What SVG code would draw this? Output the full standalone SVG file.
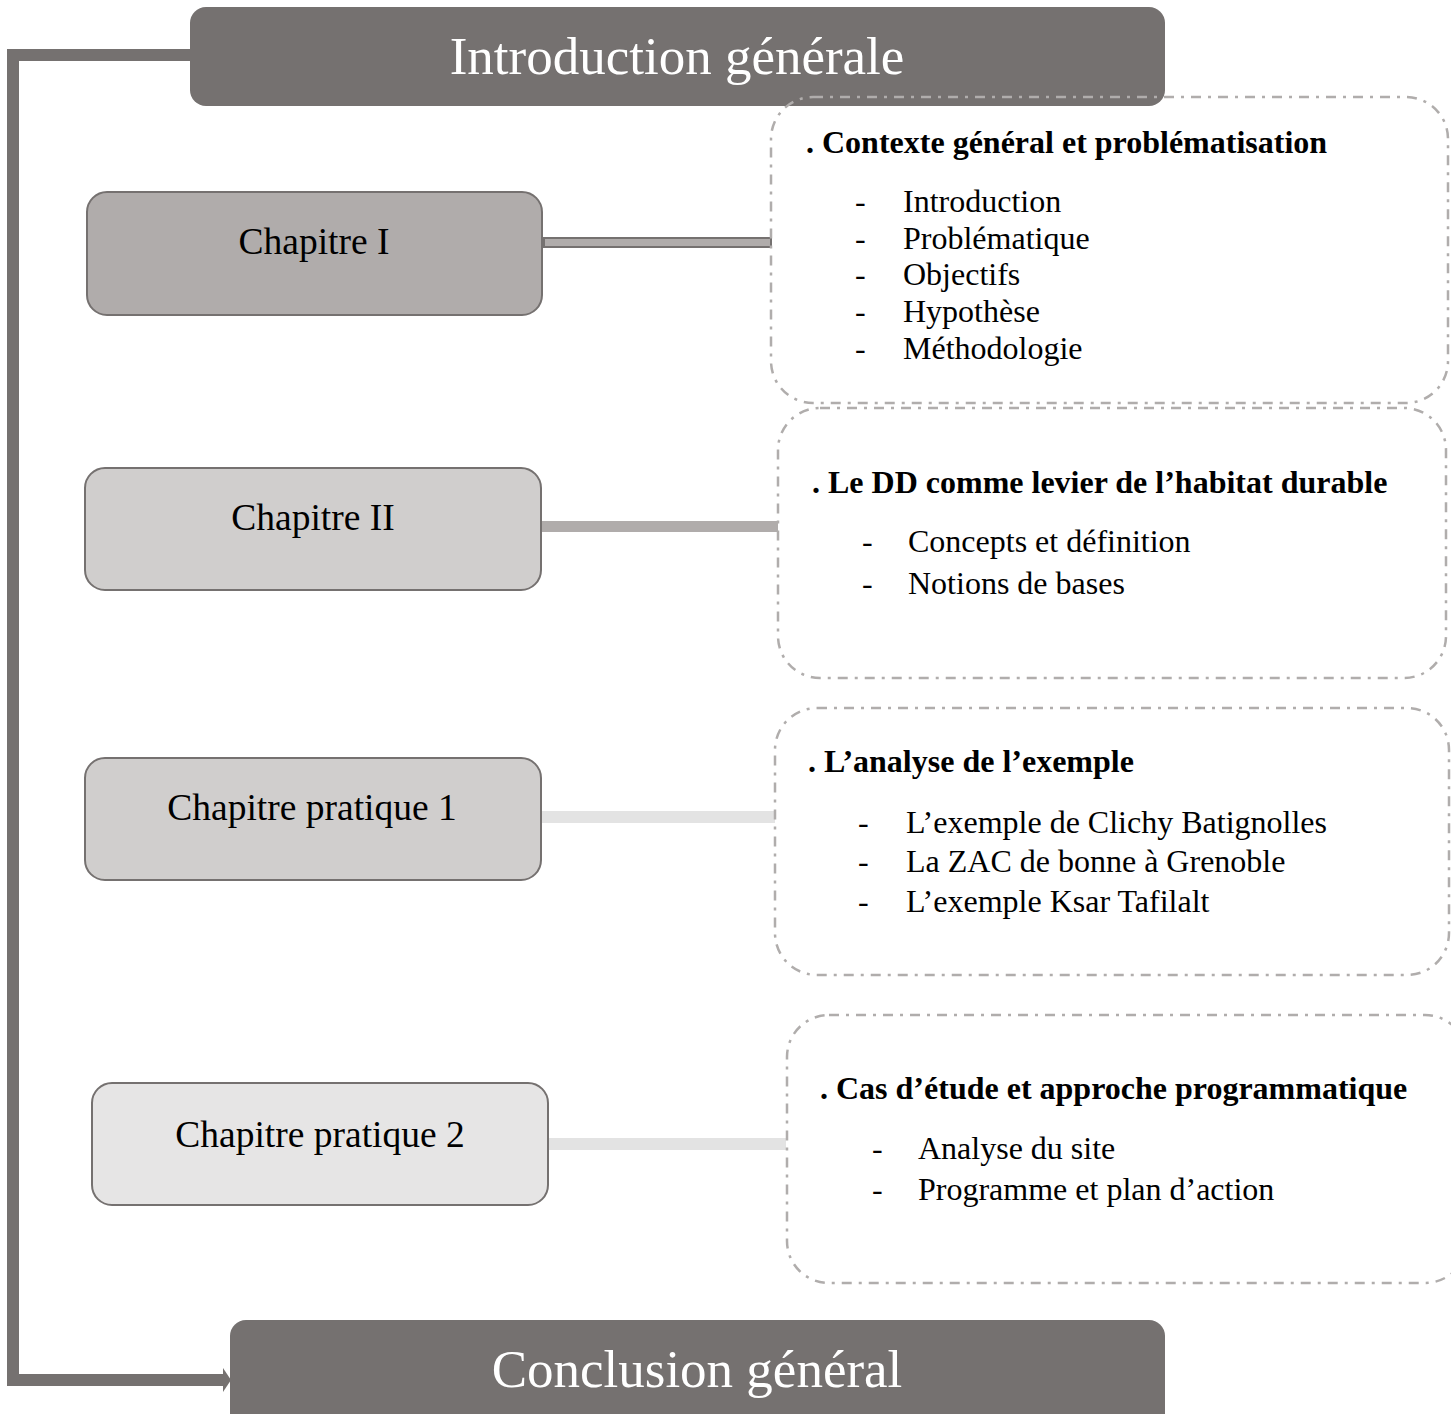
<svg xmlns="http://www.w3.org/2000/svg" width="1451" height="1414" viewBox="0 0 1451 1414">
<style>
.title{font-family:"Liberation Serif",serif;font-size:53px;fill:#ffffff;text-anchor:middle}
.chap{font-family:"Liberation Serif",serif;font-size:37.5px;fill:#000;text-anchor:middle}
.head{font-family:"Liberation Serif",serif;font-size:32px;font-weight:bold;fill:#000}
.item{font-family:"Liberation Serif",serif;font-size:32px;fill:#000}
.dd{fill:none;stroke:#b0adac;stroke-width:2.5;stroke-dasharray:10 7 3 7}
.chbox{stroke:#757170;stroke-width:2}
</style>
<g id="connectors">
<path d="M190,55 H13 V1380 H225" fill="none" stroke="#757170" stroke-width="12"/>
<polygon points="223,1368 231,1380 223,1392" fill="#757170"/>
<rect x="544" y="238" width="227" height="9" fill="#b0acab" stroke="#757170" stroke-width="2"/>
<rect x="541" y="521" width="237" height="11" fill="#b0acab"/>
<rect x="541" y="811" width="234" height="12" fill="#e3e3e3"/>
<rect x="548" y="1138" width="238" height="12" fill="#e3e3e3"/>
</g>
<g id="intro">
<rect x="190" y="7" width="975" height="99" rx="16" fill="#757170"/>
<text class="title" x="677" y="74">Introduction générale</text>
</g>
<g id="conclusion">
<rect x="230" y="1320" width="935" height="110" rx="16" fill="#757170"/>
<text class="title" x="697" y="1387">Conclusion général</text>
</g>
<g id="ch1">
<rect class="chbox" x="87" y="192" width="455" height="123" rx="20" fill="#b0acab"/>
<text class="chap" x="314" y="254">Chapitre I</text>
</g>
<g id="ch2">
<rect class="chbox" x="85" y="468" width="456" height="122" rx="20" fill="#d0cecd"/>
<text class="chap" x="313" y="530">Chapitre II</text>
</g>
<g id="chp1">
<rect class="chbox" x="85" y="758" width="456" height="122" rx="20" fill="#d0cecd"/>
<text class="chap" x="312" y="820">Chapitre pratique 1</text>
</g>
<g id="chp2">
<rect class="chbox" x="92" y="1083" width="456" height="122" rx="20" fill="#e6e5e5"/>
<text class="chap" x="320" y="1147">Chapitre pratique 2</text>
</g>
<g id="box1">
<rect class="dd" x="771" y="97" width="677" height="306" rx="42"/>
<text class="head" x="806" y="153">. Contexte général et problématisation</text>
<text class="item" x="855" y="212">-</text><text class="item" x="903" y="212">Introduction</text>
<text class="item" x="855" y="249">-</text><text class="item" x="903" y="249">Problématique</text>
<text class="item" x="855" y="285">-</text><text class="item" x="903" y="285">Objectifs</text>
<text class="item" x="855" y="322">-</text><text class="item" x="903" y="322">Hypothèse</text>
<text class="item" x="855" y="359">-</text><text class="item" x="903" y="359">Méthodologie</text>
</g>
<g id="box2">
<rect class="dd" x="778" y="408" width="668" height="270" rx="42"/>
<text class="head" x="812" y="493">. Le DD comme levier de l’habitat durable</text>
<text class="item" x="862" y="552">-</text><text class="item" x="908" y="552">Concepts et définition</text>
<text class="item" x="862" y="594">-</text><text class="item" x="908" y="594">Notions de bases</text>
</g>
<g id="box3">
<rect class="dd" x="775" y="708" width="674" height="267" rx="42"/>
<text class="head" x="808" y="772">. L’analyse de l’exemple</text>
<text class="item" x="858" y="833">-</text><text class="item" x="906" y="833">L’exemple de Clichy Batignolles</text>
<text class="item" x="858" y="872">-</text><text class="item" x="906" y="872">La ZAC de bonne à Grenoble</text>
<text class="item" x="858" y="912">-</text><text class="item" x="906" y="912">L’exemple Ksar Tafilalt</text>
</g>
<g id="box4">
<rect class="dd" x="787" y="1015" width="680" height="268" rx="42"/>
<text class="head" x="820" y="1099">. Cas d’étude et approche programmatique</text>
<text class="item" x="872" y="1159">-</text><text class="item" x="918" y="1159">Analyse du site</text>
<text class="item" x="872" y="1200">-</text><text class="item" x="918" y="1200">Programme et plan d’action</text>
</g>
</svg>
